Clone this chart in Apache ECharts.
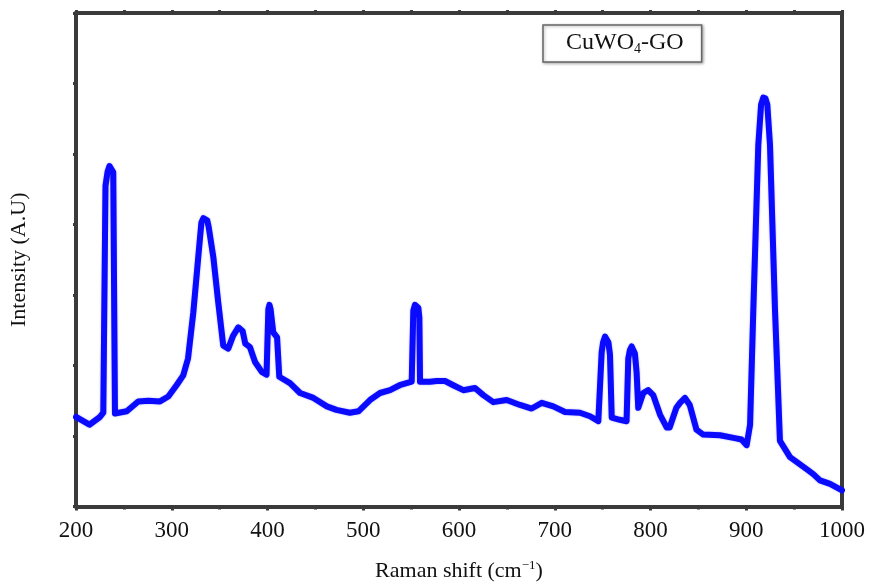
<!DOCTYPE html>
<html>
<head>
<meta charset="utf-8">
<script src="https://cdn.jsdelivr.net/npm/echarts@6/dist/echarts.min.js"></script>
<style>
  html, body { margin: 0; padding: 0; background: #fff; }
  #chart { width: 869px; height: 587px; }
</style>
</head>
<body>
<div id="chart"></div>
<script>
// Raman spectrum of CuWO4-GO (arbitrary intensity units)
const ramanShift = [
  200, 214, 225, 228.5, 230.8, 233, 235, 237, 238.9, 240.7, 253, 265, 275.5, 287.7, 296.4,
  305, 312, 317, 322.5, 327.7, 331, 333, 335, 337, 338.5, 343.4, 348.6, 353.8, 359, 364, 369.5,
  374, 376.8, 381.7, 387, 394, 399, 400.9, 402, 403.2, 406, 410, 412.3, 423.5, 434, 448,
  462, 472, 486, 495, 507, 517.5, 528, 538, 550.6, 552.3, 554, 555.8, 557.5, 558.6, 559.3, 569.7,
  576.7, 585.4, 594, 604.5, 616.7, 625.4, 635.8, 649.8, 663.7, 675.9, 686.4, 698.5,
  710.7, 726.4, 736.8, 745.5, 749, 750.5, 752.5, 754.5, 756, 757.7, 759.5, 768, 775,
  776.8, 778.5, 780.3, 782, 783.7, 785.5, 787.2, 792.4, 797.6, 802.8, 810, 817, 820, 827,
  830.8, 836, 841, 848, 855, 872.6, 888, 895, 900.4, 904, 907.4, 912.6, 915.5, 917.8,
  920, 922, 924.8, 930, 935.2, 945.7, 963, 970, 977, 987.5, 1000
];
const intensity = [
  1.27, 1.16, 1.27, 1.33, 4.55, 4.75, 4.83, 4.82, 4.74, 1.32, 1.35, 1.49, 1.50, 1.49, 1.56,
  1.72, 1.86, 2.10, 2.75, 3.54, 4.03, 4.09, 4.10, 4.06, 3.97, 3.54, 2.89, 2.28, 2.24, 2.42, 2.54,
  2.49, 2.31, 2.26, 2.05, 1.91, 1.87, 2.80, 2.86, 2.80, 2.47, 2.40, 1.84, 1.75, 1.61, 1.54,
  1.42, 1.37, 1.33, 1.35, 1.51, 1.61, 1.65, 1.72, 1.77, 2.78, 2.86, 2.88, 2.82, 2.68, 1.77, 1.77,
  1.78, 1.78, 1.72, 1.65, 1.68, 1.58, 1.48, 1.51, 1.44, 1.39, 1.47, 1.42,
  1.34, 1.33, 1.28, 1.21, 2.19, 2.33, 2.41, 2.40, 2.33, 2.15, 1.26, 1.23, 1.21,
  2.10, 2.22, 2.27, 2.25, 2.17, 1.90, 1.40, 1.61, 1.65, 1.58, 1.30, 1.12, 1.12, 1.40,
  1.47, 1.54, 1.44, 1.09, 1.02, 1.01, 0.97, 0.95, 0.87, 1.16, 2.80, 5.13, 5.70, 5.80,
  5.79, 5.70, 5.13, 2.80, 0.93, 0.70, 0.53, 0.46, 0.37, 0.32, 0.23
];
const seriesName = 'CuWO4-GO';
const xTicks = [200, 300, 400, 500, 600, 700, 800, 900, 1000];

const points = ramanShift.map((x, i) => [x, intensity[i]]);
const axisColor = '#3a3a3a';
const serif = '"Liberation Serif", "DejaVu Serif", serif';

const chart = echarts.init(document.getElementById('chart'), null, { renderer: 'canvas' });
chart.setOption({
  animation: false,
  backgroundColor: '#ffffff',
  grid: { left: 76, right: 27, top: 13, bottom: 74, show: false },
  legend: {
    data: [{ name: seriesName, icon: 'none' }],
    left: 543, top: 25,
    itemWidth: 0, itemHeight: 0, itemGap: 0,
    padding: [6, 18, 6, 18],
    borderColor: '#666', borderWidth: 1.5,
    shadowColor: 'rgba(0,0,0,0.3)', shadowBlur: 3, shadowOffsetX: 1, shadowOffsetY: 1,
    backgroundColor: '#fff',
    formatter: () => '{a|CuWO}{s|4}{a|-GO}',
    textStyle: {
      rich: {
        a: { fontFamily: serif, fontSize: 24, color: '#111' },
        s: { fontFamily: serif, fontSize: 14, color: '#111', verticalAlign: 'bottom', padding: [12, 0, 0, 0] }
      }
    }
  },
  xAxis: [{
    type: 'value', position: 'bottom', min: 200, max: 1000, interval: 100,
    name: '{n|Raman shift (cm}{p|\u22121}{n|)}', nameLocation: 'middle', nameGap: 53,
    nameTextStyle: {
      rich: {
        n: { fontFamily: serif, fontSize: 22, color: '#111' },
        p: { fontFamily: serif, fontSize: 13, color: '#111', verticalAlign: 'top', padding: [0, 0, 10, 0] }
      }
    },
    axisLine: { show: true, onZero: false, lineStyle: { color: axisColor, width: 4 } },
    axisTick: { show: true, length: 4, lineStyle: { color: axisColor, width: 3 } },
    minorTick: { show: true, splitNumber: 2, length: 3, lineStyle: { color: axisColor, width: 3 } },
    axisLabel: {
      margin: 13, fontFamily: serif, fontSize: 23, color: '#111',
      formatter: v => xTicks.includes(v) ? String(v) : ''
    },
    splitLine: { show: false }
  }, {
    type: 'value', position: 'top', min: 200, max: 1000, interval: 50,
    axisLine: { show: true, onZero: false, lineStyle: { color: axisColor, width: 4 } },
    axisTick: { show: true, length: 3, lineStyle: { color: axisColor, width: 3 } },
    axisLabel: { show: false },
    splitLine: { show: false }
  }],
  yAxis: [{
    type: 'value', position: 'left', min: 0, max: 7, interval: 1,
    name: 'Intensity (A.U)', nameLocation: 'middle', nameGap: 46, nameRotate: 90,
    nameTextStyle: { fontFamily: serif, fontSize: 22, color: '#111' },
    axisLine: { show: true, onZero: false, lineStyle: { color: axisColor, width: 4 } },
    axisTick: { show: true, length: 3, lineStyle: { color: axisColor, width: 3 } },
    axisLabel: { show: false },
    splitLine: { show: false }
  }, {
    type: 'value', position: 'right', min: 0, max: 7, interval: 1,
    axisLine: { show: true, onZero: false, lineStyle: { color: axisColor, width: 4 } },
    axisTick: { show: false },
    axisLabel: { show: false },
    splitLine: { show: false }
  }],
  series: [{
    name: seriesName,
    type: 'line',
    xAxisIndex: 0, yAxisIndex: 0,
    data: points,
    showSymbol: false,
    smooth: false,
    lineStyle: { color: '#0a0aff', width: 6, join: 'round', cap: 'round', shadowColor: 'rgba(10,10,255,0.35)', shadowBlur: 2 },
    itemStyle: { color: '#0a0aff' }
  }]
});
</script>
</body>
</html>
